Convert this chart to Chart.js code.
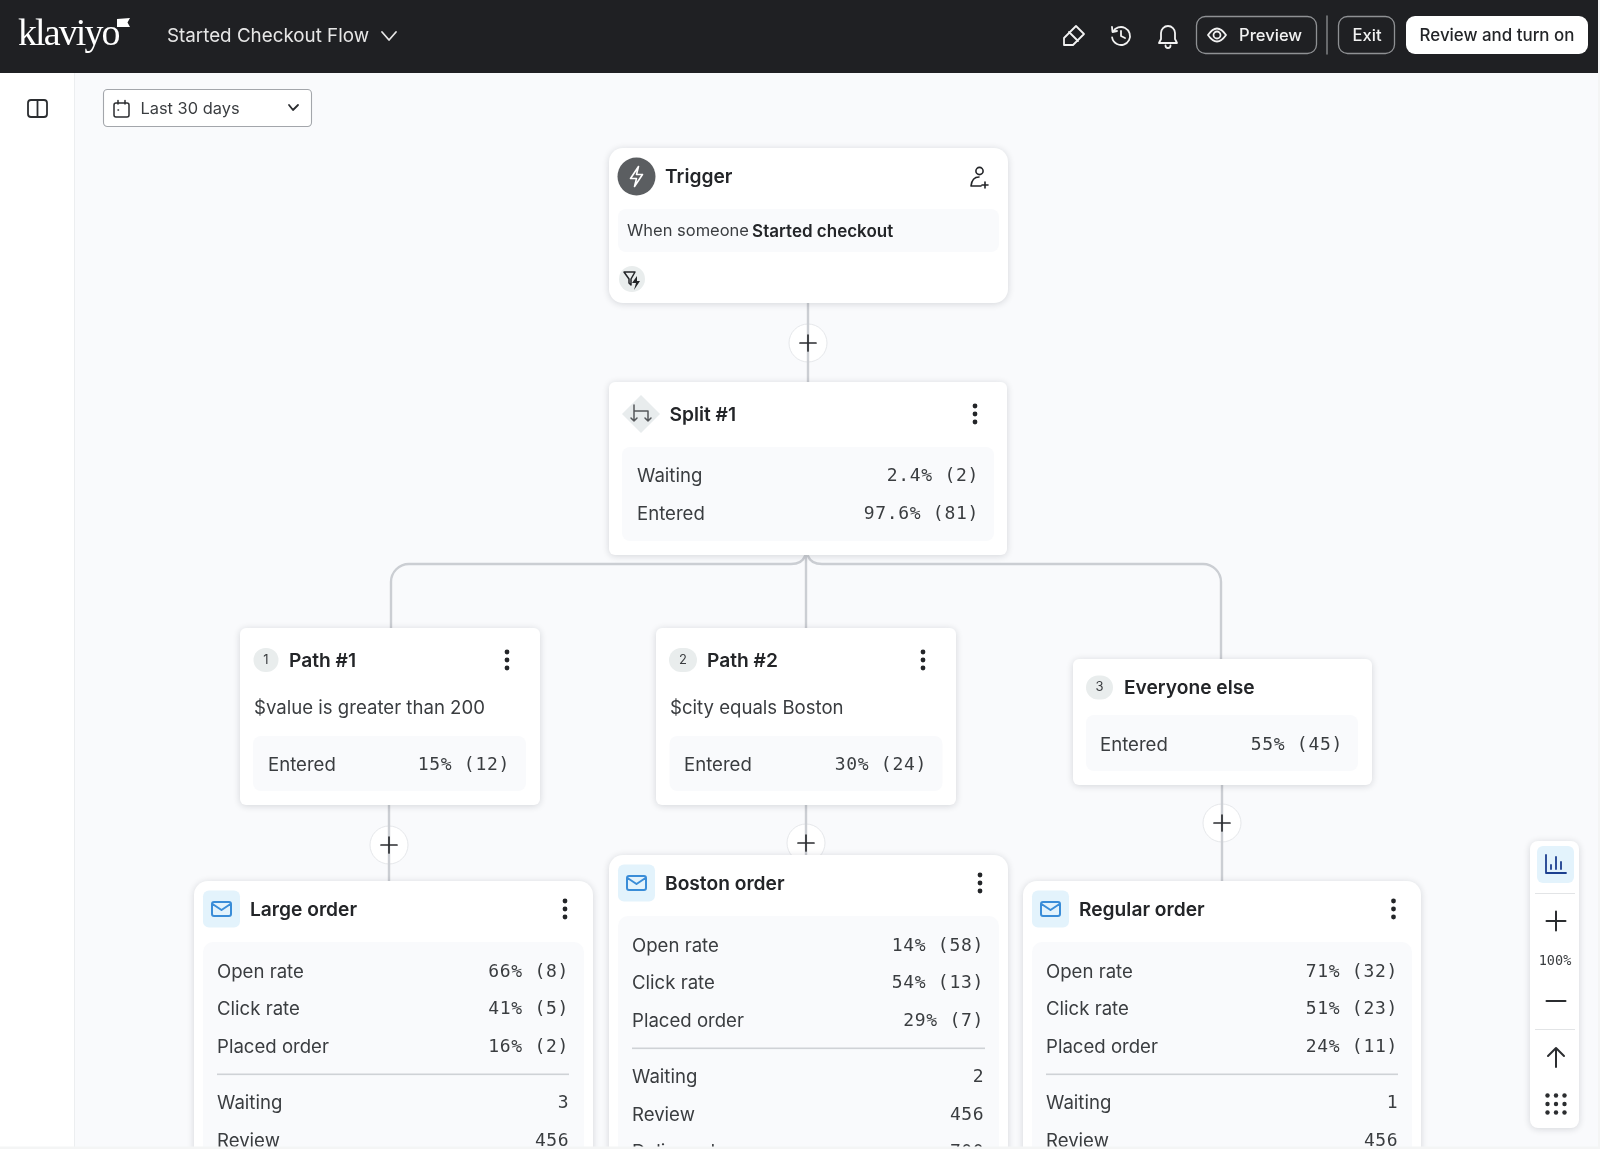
<!DOCTYPE html>
<html>
<head>
<meta charset="utf-8">
<title>Started Checkout Flow</title>
<script src="https://cdn.jsdelivr.net/npm/chart.js@4"></script>
<style>
  html, body { margin: 0; padding: 0; background: #f4f5f5; }
  canvas { display: block; }
</style>
</head>
<body>
<canvas id="flow" width="1600" height="1149"></canvas>
<script>
// values
const flowName = "Started Checkout Flow";
const dateRange = "Last 30 days";
const zoomLevel = "100%";
const headerButtons = ["Preview", "Exit", "Review and turn on"];
const triggerPrefix = "When someone ";
const triggerEvent = "Started checkout";

const splitLabels = ["Waiting", "Entered"];
const splitPct = [2.4, 97.6];
const splitCount = [2, 81];

const pathNames = ["Path #1", "Path #2", "Everyone else"];
const pathRules = ["$value is greater than 200", "$city equals Boston", ""];
const enteredPct = [15, 30, 55];
const enteredCount = [12, 24, 45];

const emailNames = ["Large order", "Boston order", "Regular order"];
const rateLabels = ["Open rate", "Click rate", "Placed order"];
const openPct = [66, 14, 71];
const openCount = [8, 58, 32];
const clickPct = [41, 54, 51];
const clickCount = [5, 13, 23];
const placedPct = [16, 29, 24];
const placedCount = [2, 7, 11];
const statusLabels = ["Waiting", "Review", "Delivered"];
const waitingCount = [3, 2, 1];
const reviewCount = [456, 456, 456];
const deliveredCount = [700, 700, 700];

// layout, in page pixels
const SANS = 'Inter, "Noto Sans", sans-serif';
const MONO = '"DejaVu Sans Mono", monospace';
const INK = "#232528";
const SOFT = "#3a3d40";
const PAGE = "#f9fafc";
const LINE = "#cbced3";

const connectors = [
  [[808, 303], [808, 382]],
  [[806, 555], [806, 628]],
  [[389, 805], [389, 881]],
  [[806, 805], [806, 856]],
  [[1222, 785], [1222, 881]],
];
const addButtons = [{ x: 808, y: 343 }, { x: 389, y: 845 }, { x: 806, y: 843 }, { x: 1222, y: 823 }];

const pathCards = [
  { x1: 240, x2: 540, y1: 628, y2: 805, badgeX: 266, badgeW: 25, titleX: 289, dotsX: 507, innerX1: 253, innerX2: 526, innerY1: 736, innerY2: 791, titleY: 660, ruleY: 708, rowY: 765, labelX: 268, valueX: 510 },
  { x1: 656, x2: 956, y1: 628, y2: 805, badgeX: 683, badgeW: 28, titleX: 707, dotsX: 923, innerX1: 669.5, innerX2: 942.5, innerY1: 736, innerY2: 791, titleY: 660, ruleY: 708, rowY: 765, labelX: 684, valueX: 927 },
  { x1: 1073, x2: 1372, y1: 659, y2: 785, badgeX: 1099.5, badgeW: 27, titleX: 1124, dotsX: 0, innerX1: 1086, innerX2: 1358, innerY1: 715, innerY2: 771, titleY: 687.5, ruleY: 0, rowY: 745, labelX: 1100, valueX: 1343 },
];
const emailCards = [
  { x1: 194, x2: 593, top: 881, iconX: 203, titleX: 250, dotsX: 565, innerX1: 203, innerX2: 584, labelX: 217, valueX: 569, ruleX2: 569 },
  { x1: 609, x2: 1008, top: 855, iconX: 618, titleX: 665, dotsX: 980, innerX1: 618, innerX2: 999, labelX: 632, valueX: 984, ruleX2: 985 },
  { x1: 1023, x2: 1421, top: 881, iconX: 1032, titleX: 1079, dotsX: 1393.5, innerX1: 1032, innerX2: 1412, labelX: 1046, valueX: 1398, ruleX2: 1398 },
];

function rr(c, x, y, w, h, r) {
  c.beginPath();
  c.roundRect(x, y, w, h, r);
}

function card(c, x1, y1, x2, y2, r) {
  c.save();
  c.shadowColor = "rgba(20,25,35,0.16)";
  c.shadowBlur = 7;
  c.shadowOffsetY = 1;
  c.fillStyle = "#fff";
  rr(c, x1, y1, x2 - x1, y2 - y1, r);
  c.fill();
  c.restore();
}

function inner(c, x1, y1, x2, y2, r) {
  c.fillStyle = PAGE;
  rr(c, x1, y1, x2 - x1, y2 - y1, r);
  c.fill();
}

function text(c, s, x, y, font, color, align, spacing) {
  c.font = font;
  c.fillStyle = color;
  c.textAlign = align || "left";
  c.textBaseline = "middle";
  c.letterSpacing = spacing || "0px";
  c.fillText(s, x, y);
  c.letterSpacing = "0px";
}

function label(c, s, x, y) {
  text(c, s, x, y, "400 18.6px " + SANS, SOFT);
}

function value(c, s, x, y) {
  text(c, s, x, y, "400 18px " + MONO, SOFT, "right", "0.7px");
}

function title(c, s, x, y) {
  text(c, s, x, y, "600 19.2px " + SANS, INK);
}

function stroke(c, color, w, draw) {
  c.save();
  c.strokeStyle = color;
  c.lineWidth = w;
  c.lineCap = "round";
  c.lineJoin = "round";
  c.beginPath();
  draw();
  c.stroke();
  c.restore();
}

function dots(c, x, y) {
  c.fillStyle = "#232528";
  [-8, 0, 8].forEach(d => {
    c.beginPath();
    c.arc(x, y + d, 2.4, 0, Math.PI * 2);
    c.fill();
  });
}

function plus(c, x, y, half, w) {
  stroke(c, "#2b2d30", w, () => {
    c.moveTo(x - half, y);
    c.lineTo(x + half, y);
    c.moveTo(x, y - half);
    c.lineTo(x, y + half);
  });
}

function mailIcon(c, x, y) {
  c.fillStyle = "#e3f3fc";
  rr(c, x, y, 37, 37, 6);
  c.fill();
  const cx = x + 18.5, cy = y + 18.5;
  stroke(c, "#3a8dd8", 2, () => {
    c.roundRect(cx - 9.5, cy - 7, 19, 14, 2);
    c.moveTo(cx - 9, cy - 5);
    c.lineTo(cx, cy + 1);
    c.lineTo(cx + 9, cy - 5);
  });
}

function badge(c, n, x, y, w) {
  c.fillStyle = "#e9eded";
  rr(c, x - w / 2, y - 12, w, 24, 12);
  c.fill();
  text(c, n, x, y, "400 13px " + SANS, SOFT, "center");
}

function drawHeader(c) {
  c.fillStyle = "#1f2023";
  c.fillRect(0, 0, 1598, 73);
  text(c, "klaviyo", 18, 35, '400 38px "Liberation Serif", serif', "#fff", "left", "-1.9px");
  c.fillStyle = "#fff";
  c.beginPath();
  c.moveTo(117, 19);
  c.lineTo(130, 18);
  c.lineTo(127.5, 22.5);
  c.lineTo(130, 27);
  c.lineTo(117, 27);
  c.closePath();
  c.fill();

  text(c, flowName, 167, 36.5, "400 18.8px " + SANS, "#e6e6e6");
  stroke(c, "#e6e6e6", 1.8, () => {
    c.moveTo(382, 32);
    c.lineTo(389, 40);
    c.lineTo(396, 32);
  });

  // eraser
  stroke(c, "#f2f2f2", 1.8, () => {
    c.moveTo(1064, 45);
    c.lineTo(1064, 38);
    c.lineTo(1076, 26);
    c.lineTo(1084, 34);
    c.lineTo(1073, 45);
    c.closePath();
    c.moveTo(1069, 32);
    c.lineTo(1078, 41);
  });
  // history
  stroke(c, "#f2f2f2", 1.8, () => {
    c.arc(1121, 36, 9, -Math.PI * 0.85, Math.PI * 0.95);
    c.moveTo(1112, 27);
    c.lineTo(1112.5, 32);
    c.lineTo(1117, 31);
    c.moveTo(1121, 31);
    c.lineTo(1121, 36);
    c.lineTo(1125, 38);
  });
  // bell
  stroke(c, "#f2f2f2", 1.8, () => {
    c.moveTo(1159, 43);
    c.lineTo(1161, 39);
    c.lineTo(1161, 33);
    c.arc(1168, 33, 7, Math.PI, 0);
    c.lineTo(1175, 39);
    c.lineTo(1177, 43);
    c.closePath();
    c.moveTo(1165.5, 45.5);
    c.arc(1168, 45.5, 2.5, Math.PI, 0, true);
  });

  stroke(c, "#8f9194", 1.3, () => c.roundRect(1196.5, 16.5, 120, 37, 9));
  stroke(c, "#f2f2f2", 1.8, () => {
    c.moveTo(1208, 35);
    c.quadraticCurveTo(1217, 22, 1226, 35);
    c.quadraticCurveTo(1217, 48, 1208, 35);
    c.moveTo(1220.5, 35);
    c.arc(1217, 35, 3.5, 0, Math.PI * 2);
  });
  text(c, headerButtons[0], 1239, 36, "500 16.6px " + SANS, "#f2f2f2");
  stroke(c, "#8f9194", 1.3, () => {
    c.moveTo(1327, 16);
    c.lineTo(1327, 54);
  });
  stroke(c, "#8f9194", 1.3, () => c.roundRect(1338.5, 16.5, 56, 37, 9));
  text(c, headerButtons[1], 1367, 36, "500 16.6px " + SANS, "#f2f2f2", "center");
  c.fillStyle = "#fff";
  rr(c, 1406, 16, 182, 38, 9);
  c.fill();
  text(c, headerButtons[2], 1497, 36, "500 16.9px " + SANS, INK, "center");
}

function drawSidebar(c) {
  c.fillStyle = "#fff";
  c.fillRect(0, 72, 74, 1077);
  c.fillStyle = "#eceef0";
  c.fillRect(74, 72, 1, 1077);
  stroke(c, "#2b2d30", 1.8, () => {
    c.roundRect(28, 100, 19, 17, 3);
    c.moveTo(37.5, 100);
    c.lineTo(37.5, 117);
  });

  c.fillStyle = "#fff";
  rr(c, 103.5, 89.5, 208, 37, 4);
  c.fill();
  stroke(c, "#a3a6ab", 1.1, () => c.roundRect(103.5, 89.5, 208, 37, 4));
  stroke(c, "#2b2d30", 1.5, () => {
    c.roundRect(114, 103, 15, 14, 2);
    c.moveTo(118, 100.5);
    c.lineTo(118, 104);
    c.moveTo(125, 100.5);
    c.lineTo(125, 104);
    c.moveTo(118, 110);
    c.lineTo(118.5, 110);
  });
  text(c, dateRange, 140.5, 109, "400 16.4px " + SANS, SOFT);
  stroke(c, "#2b2d30", 1.8, () => {
    c.moveTo(289, 105);
    c.lineTo(293, 110);
    c.lineTo(298, 105);
  });
}

function drawBranches(c) {
  stroke(c, LINE, 2.4, () => {
    c.moveTo(805, 556);
    c.quadraticCurveTo(802, 564, 791, 564);
    c.lineTo(409, 564);
    c.arcTo(391, 564, 391, 582, 18);
    c.lineTo(391, 628);
    c.moveTo(808, 556);
    c.quadraticCurveTo(811, 564, 822, 564);
    c.lineTo(1203, 564);
    c.arcTo(1221, 564, 1221, 582, 18);
    c.lineTo(1221, 659);
  });
}

function drawTrigger(c) {
  card(c, 609, 148, 1008, 303, 14);
  c.fillStyle = "#5b5e61";
  c.beginPath();
  c.arc(636.5, 176.5, 19, 0, Math.PI * 2);
  c.fill();
  stroke(c, "#fff", 1.6, () => {
    c.moveTo(638.5, 166.5);
    c.lineTo(630.5, 178.5);
    c.lineTo(636.5, 178.5);
    c.lineTo(634.5, 186.5);
    c.lineTo(642.5, 174.5);
    c.lineTo(636.5, 174.5);
    c.closePath();
  });
  title(c, "Trigger", 665, 177.5);
  stroke(c, INK, 1.6, () => {
    c.moveTo(983, 171);
    c.arc(979.5, 171, 3.6, 0, Math.PI * 2);
    c.moveTo(971, 186);
    c.quadraticCurveTo(972, 177, 979, 177);
    c.moveTo(971, 186);
    c.lineTo(981, 186);
    c.moveTo(985, 182);
    c.lineTo(985, 188);
    c.moveTo(982, 185);
    c.lineTo(988, 185);
  });
  inner(c, 618, 209, 999, 252, 8);
  text(c, triggerPrefix, 627, 231.5, "400 16.5px " + SANS, SOFT);
  const w = c.measureText(triggerPrefix).width;
  text(c, triggerEvent, 625.5 + w, 231.5, "600 17px " + SANS, INK);
  c.fillStyle = "#e9eded";
  c.beginPath();
  c.arc(632, 279, 13, 0, Math.PI * 2);
  c.fill();
  stroke(c, INK, 1.5, () => {
    c.moveTo(624, 272);
    c.lineTo(635, 272);
    c.lineTo(631, 279);
    c.lineTo(631, 285);
    c.lineTo(629, 283);
    c.lineTo(629, 279);
    c.closePath();
  });
  c.fillStyle = INK;
  c.beginPath();
  c.moveTo(637, 276);
  c.lineTo(632, 283);
  c.lineTo(636, 283);
  c.lineTo(634, 290);
  c.lineTo(640, 281);
  c.lineTo(637, 281);
  c.closePath();
  c.fill();
}

function drawSplit(c) {
  card(c, 609, 382, 1007, 555, 6);
  c.fillStyle = "#e8eced";
  c.beginPath();
  c.moveTo(641, 395);
  c.lineTo(660, 414);
  c.lineTo(641, 433);
  c.lineTo(622, 414);
  c.closePath();
  c.fill();
  stroke(c, "#55585b", 1.5, () => {
    c.moveTo(634, 405);
    c.lineTo(634, 411);
    c.lineTo(648, 411);
    c.lineTo(648, 421);
    c.moveTo(645, 418);
    c.lineTo(648, 421);
    c.lineTo(651, 418);
    c.moveTo(634, 411);
    c.lineTo(634, 421);
    c.moveTo(631, 418);
    c.lineTo(634, 421);
    c.lineTo(637, 418);
  });
  title(c, "Split #1", 669.5, 415.5);
  dots(c, 975, 414);
  inner(c, 622, 447, 994, 541, 8);
  splitLabels.forEach((s, i) => {
    const y = 476.5 + i * 37.5;
    label(c, s, 637, y);
    value(c, `${splitPct[i]}% (${splitCount[i]})`, 979, y);
  });
}

function drawPaths(c) {
  pathCards.forEach((p, i) => {
    card(c, p.x1, p.y1, p.x2, p.y2, 6);
    badge(c, String(i + 1), p.badgeX, p.titleY, p.badgeW);
    title(c, pathNames[i], p.titleX, p.titleY + 1);
    if (p.dotsX) dots(c, p.dotsX, p.titleY);
    if (pathRules[i]) label(c, pathRules[i], Math.floor(p.innerX1) + 1, p.ruleY);
    inner(c, p.innerX1, p.innerY1, p.innerX2, p.innerY2, 8);
    label(c, "Entered", p.labelX, p.rowY);
    value(c, `${enteredPct[i]}% (${enteredCount[i]})`, p.valueX, p.rowY);
  });
}

function drawEmails(c) {
  const rates = [[openPct, openCount], [clickPct, clickCount], [placedPct, placedCount]];
  const status = [waitingCount, reviewCount, deliveredCount];
  emailCards.forEach((e, i) => {
    const t = e.top;
    card(c, e.x1, t, e.x2, 1180, 14);
    mailIcon(c, e.iconX, t + 9.5);
    title(c, emailNames[i], e.titleX, t + 29.5);
    dots(c, e.dotsX, t + 28);
    inner(c, e.innerX1, t + 61, e.innerX2, 1180, 10);
    rates.forEach((r, k) => {
      const y = t + 91 + k * 37.5;
      label(c, rateLabels[k], e.labelX, y);
      value(c, `${r[0][i]}% (${r[1][i]})`, e.valueX, y);
    });
    c.fillStyle = "#cfd2d6";
    c.fillRect(e.labelX, t + 192.5, e.ruleX2 - e.labelX, 1.6);
    status.forEach((r, k) => {
      const y = t + 222.5 + k * 37.5;
      if (y > 1160) return;
      label(c, statusLabels[k], e.labelX, y);
      text(c, String(r[i]), e.valueX, y, "400 18px " + MONO, SOFT, "right", "0.5px");
    });
  });
}

function drawToolbar(c) {
  card(c, 1530, 841, 1579, 1128, 8);
  c.fillStyle = "#e3f3fc";
  rr(c, 1537, 846, 37, 37, 6);
  c.fill();
  stroke(c, "#1c3f8f", 1.8, () => {
    c.moveTo(1546, 855);
    c.lineTo(1546, 873);
    c.lineTo(1566, 873);
    c.moveTo(1551, 865);
    c.lineTo(1551, 869);
    c.moveTo(1556, 857);
    c.lineTo(1556, 869);
    c.moveTo(1561, 862);
    c.lineTo(1561, 869);
  });
  c.fillStyle = "#e2e4e6";
  c.fillRect(1535, 893, 40, 1);
  c.fillRect(1535, 1029, 40, 1);
  plus(c, 1556, 921, 9.5, 2);
  text(c, zoomLevel, 1555, 961.5, "400 13.5px " + MONO, SOFT, "center");
  stroke(c, "#2b2d30", 2, () => {
    c.moveTo(1546.5, 1001);
    c.lineTo(1565.5, 1001);
  });
  stroke(c, "#2b2d30", 2, () => {
    c.moveTo(1556, 1067);
    c.lineTo(1556, 1048);
    c.moveTo(1548, 1056);
    c.lineTo(1556, 1048);
    c.lineTo(1564, 1056);
  });
  c.fillStyle = "#2b2d30";
  [-8.5, 0, 8.5].forEach(dx => [-8.5, 0, 8.5].forEach(dy => {
    c.beginPath();
    c.arc(1556 + dx, 1104 + dy, 2.2, 0, Math.PI * 2);
    c.fill();
  }));
}

const flowPlugin = {
  id: "flow",
  beforeDatasetsDraw(chart) {
    const c = chart.ctx;
    c.fillStyle = PAGE;
    c.fillRect(0, 0, 1600, 1149);
    drawBranches(c);
  },
  afterDatasetsDraw(chart) {
    const c = chart.ctx;
    const sx = chart.scales.x, sy = chart.scales.y;
    addButtons.forEach(b => plus(c, sx.getPixelForValue(b.x), sy.getPixelForValue(b.y), 8, 1.7));
    drawTrigger(c);
    drawSplit(c);
    drawPaths(c);
    drawEmails(c);
    drawToolbar(c);
    c.fillStyle = "#f4f5f5";
    c.fillRect(0, 1146.5, 1600, 3);
    c.fillRect(1598, 72, 2, 1077);
    c.fillRect(1598, 0, 2, 72);
    drawSidebar(c);
    c.fillStyle = "#f4f5f5";
    c.fillRect(0, 1146.5, 75, 3);
    drawHeader(c);
  },
};

new Chart(document.getElementById("flow"), {
  type: "scatter",
  data: {
    datasets: [
      ...connectors.map(seg => ({
        data: seg.map(p => ({ x: p[0], y: p[1] })),
        showLine: true,
        borderColor: LINE,
        borderWidth: 2.4,
        pointRadius: 0,
      })),
      {
        data: addButtons,
        pointStyle: "circle",
        pointRadius: 19,
        pointBackgroundColor: "#fff",
        pointBorderColor: "#e6e8eb",
        pointBorderWidth: 1,
      },
    ],
  },
  options: {
    responsive: false,
    animation: false,
    events: [],
    layout: { padding: 0, autoPadding: false },
    plugins: { legend: { display: false }, tooltip: { enabled: false } },
    scales: {
      x: { type: "linear", min: 0, max: 1600, display: false },
      y: { type: "linear", min: 0, max: 1149, reverse: true, display: false },
    },
  },
  plugins: [flowPlugin],
});
</script>
</body>
</html>
